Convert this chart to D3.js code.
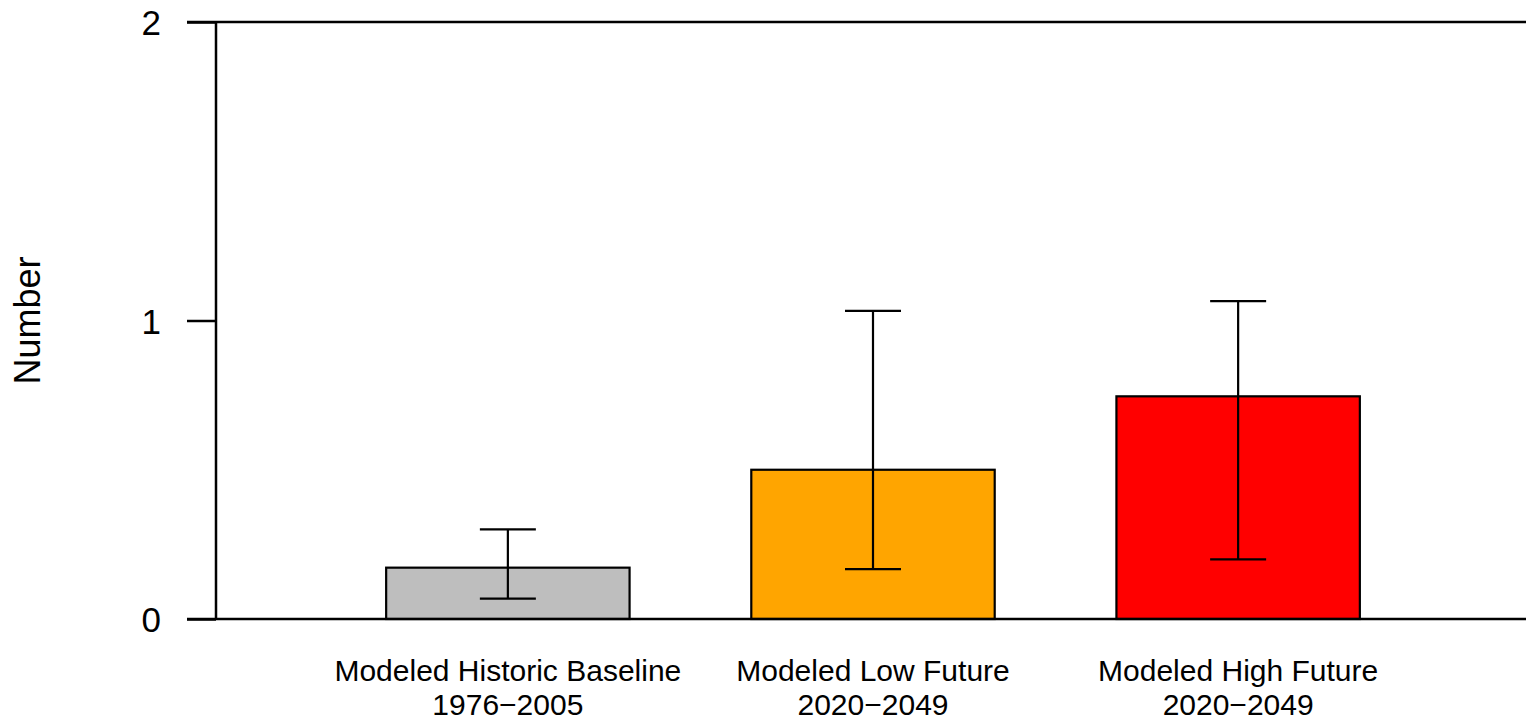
<!DOCTYPE html>
<html>
<head>
<meta charset="utf-8">
<script src="https://cdn.jsdelivr.net/npm/d3@7"></script>
<style>
  html, body { margin: 0; padding: 0; background: #fff; }
  svg { display: block; }
  text { font-family: "Liberation Sans", Arial, Helvetica, sans-serif; fill: #000; }
</style>
</head>
<body>
<svg id="chart" width="1526" height="721"></svg>
<script>
const categories = ["Modeled Historic Baseline", "Modeled Low Future", "Modeled High Future"];
const periods = ["1976\u22122005", "2020\u22122049", "2020\u22122049"];
const values = [0.172, 0.5, 0.746];
const lower = [0.068, 0.167, 0.2];
const upper = [0.300, 1.032, 1.065];
const colors = ["#BEBEBE", "#FFA500", "#FF0000"];
const yTicks = [0, 1, 2];
const yLabel = "Number";

const svg = d3.select("#chart");
const W = 1526, H = 721;
const plotLeft = 216, plotTop = 22, plotBottom = 619;

const y = d3.scaleLinear().domain([0, 2]).range([plotBottom, plotTop]);
const x = d3.scaleBand().domain(categories).range([plotLeft, 1530])
  .paddingInner(1 / 3).paddingOuter(0.466);

const data = categories.map((c, i) => ({ c, p: periods[i], v: values[i], lo: lower[i], hi: upper[i], col: colors[i] }));

// bars
svg.append("g").selectAll("rect").data(data).join("rect")
  .attr("x", d => x(d.c))
  .attr("y", d => y(d.v))
  .attr("width", x.bandwidth())
  .attr("height", d => y(0) - y(d.v))
  .attr("fill", d => d.col)
  .attr("stroke", "#000")
  .attr("stroke-width", 2.2);

// horizontal lines at 0 and 2
svg.append("g").selectAll("line").data([0, 2]).join("line")
  .attr("x1", 187).attr("x2", W)
  .attr("y1", d => y(d)).attr("y2", d => y(d))
  .attr("stroke", "#000").attr("stroke-width", 2.5);

// y axis
const yAxis = d3.axisLeft(y).tickValues(yTicks).tickSize(29).tickPadding(26).tickFormat(d3.format("d"));
const gy = svg.append("g").attr("transform", `translate(${plotLeft},0)`).call(yAxis);
gy.select(".domain").remove();
gy.selectAll(".tick line").attr("stroke", "#000").attr("stroke-width", 2.5);
gy.selectAll(".tick text").style("font-size", "35px").attr("dy", "0.36em")
  .style("font-family", "'Liberation Sans', Arial, Helvetica, sans-serif");
svg.append("line")
  .attr("x1", plotLeft).attr("x2", plotLeft)
  .attr("y1", y(2)).attr("y2", y(0))
  .attr("stroke", "#000").attr("stroke-width", 2.5);

// error bars
const capHalf = 28;
const eb = svg.append("g").selectAll("g").data(data).join("g");
eb.append("line")
  .attr("x1", d => x(d.c) + x.bandwidth() / 2).attr("x2", d => x(d.c) + x.bandwidth() / 2)
  .attr("y1", d => y(d.lo)).attr("y2", d => y(d.hi))
  .attr("stroke", "#000").attr("stroke-width", 2.2);
eb.append("line")
  .attr("x1", d => x(d.c) + x.bandwidth() / 2 - capHalf).attr("x2", d => x(d.c) + x.bandwidth() / 2 + capHalf)
  .attr("y1", d => y(d.hi)).attr("y2", d => y(d.hi))
  .attr("stroke", "#000").attr("stroke-width", 2.2);
eb.append("line")
  .attr("x1", d => x(d.c) + x.bandwidth() / 2 - capHalf).attr("x2", d => x(d.c) + x.bandwidth() / 2 + capHalf)
  .attr("y1", d => y(d.lo)).attr("y2", d => y(d.lo))
  .attr("stroke", "#000").attr("stroke-width", 2.2);

// x labels
const xl = svg.append("g").selectAll("text").data(data).join("text")
  .attr("x", d => x(d.c) + x.bandwidth() / 2)
  .attr("y", 681)
  .attr("text-anchor", "middle")
  .style("font-size", "30px");
xl.append("tspan").attr("x", d => x(d.c) + x.bandwidth() / 2).text(d => d.c);
xl.append("tspan").attr("x", d => x(d.c) + x.bandwidth() / 2).attr("dy", 34).text(d => d.p);

// y label
svg.append("text")
  .attr("transform", `translate(40,${(plotTop + plotBottom) / 2}) rotate(-90)`)
  .attr("text-anchor", "middle")
  .style("font-size", "36px")
  .text(yLabel);
</script>
</body>
</html>
